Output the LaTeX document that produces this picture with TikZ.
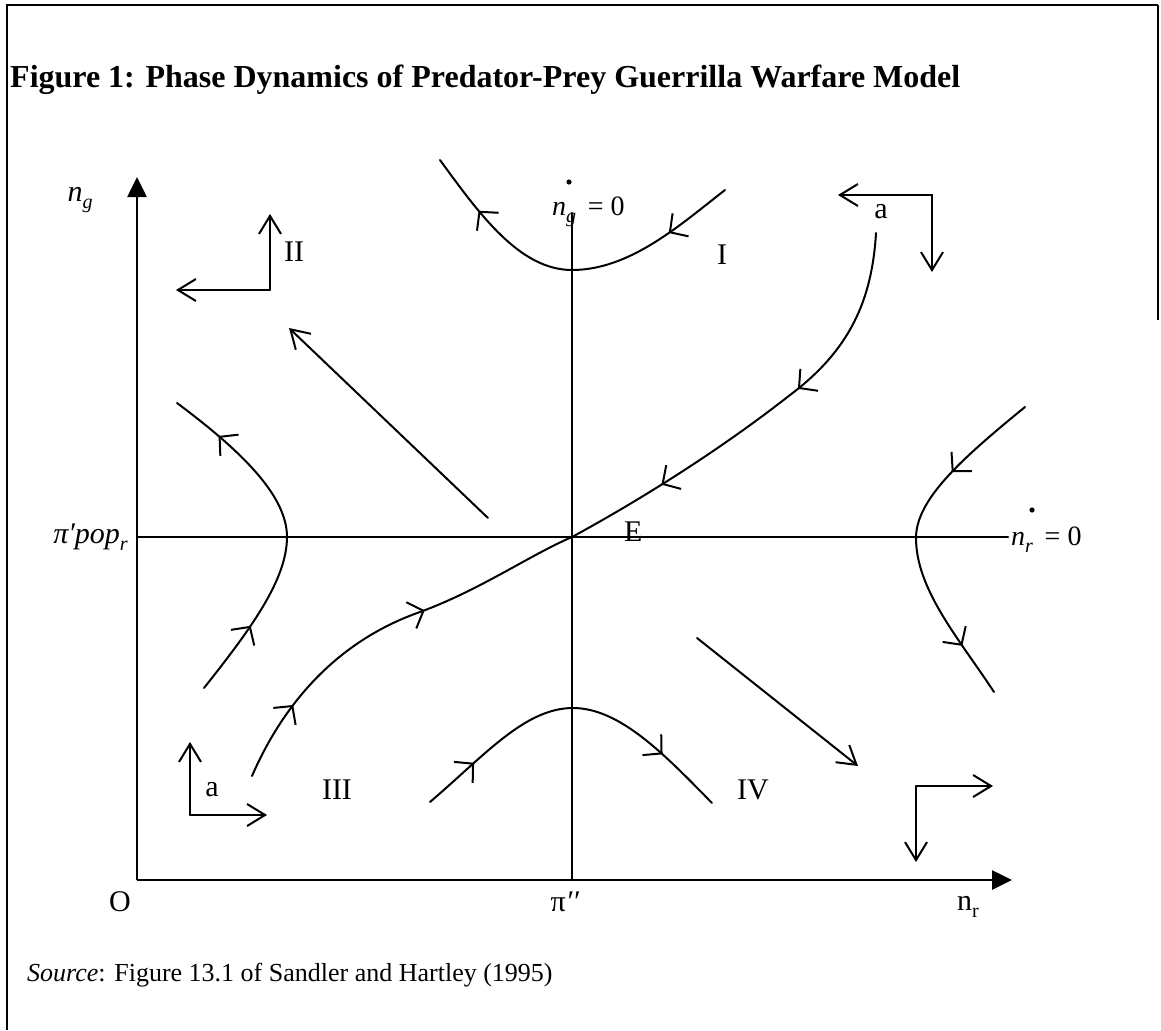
\documentclass[tikz,border=0pt]{standalone}
\usepackage{fontspec}
\setmainfont{Liberation Serif}
\usetikzlibrary{arrows.meta,decorations.markings}
\newcommand{\subs}[1]{\raisebox{-7pt}{\fontsize{20}{20}\selectfont #1}}
\begin{document}
\begin{tikzpicture}[x=1pt,y=-1pt,
  every node/.style={font=\fontsize{30}{34}\selectfont, inner sep=0pt},
  ln/.style={line width=2pt, line cap=round},
  axis/.style={line width=2.6pt, -{Triangle[length=20pt,width=19pt]}},
  openarr/.style={ln, -{Straight Barb[length=18pt,width=22pt]}},
  cbarb/.tip={Straight Barb[length=13pt,width=28pt]},
  flow/.style 2 args={ln, postaction={decorate}, decoration={markings,
     mark=at position #1 with {\arrow{cbarb}},
     mark=at position #2 with {\arrow{cbarb}}}},
  frame/.style={line width=2pt}]
\useasboundingbox (0,0) rectangle (1161,1030);
% frame
\draw[frame] (1158,5) -- (7,5) -- (7,1030);
\draw[line width=1.2pt] (1158,5) -- (1158,320);
% title and source
\node[anchor=base west, font=\fontsize{32}{38}\selectfont\bfseries] (title) at (10,88) {Figure 1: Phase Dynamics of Predator-Prey Guerrilla Warfare Model};
\node[anchor=west, font=\fontsize{26}{30}\selectfont] (src) at (27,975) {\textit{Source}: Figure 13.1 of Sandler and Hartley (1995)};
% key coordinates
\coordinate (O) at (137,880);
\coordinate (ytip) at (137,177);
\coordinate (xtip) at (1012,880);
\coordinate (E) at (572,537);
\coordinate (hl) at (137,537);
\coordinate (hr) at (1008,537);
\coordinate (vt) at (572,213);
\coordinate (vb) at (572,880);
% axes
\draw[axis] (O) -- (ytip);
\draw[axis] (O) -- (xtip);
% isoclines
\draw[ln] (hl) -- (hr);
\draw[ln] (vt) -- (vb);
% axis labels
\node (ng) at (80,200) {\textit{n}\subs{\textit{g}}};
\node[anchor=east] (pipop) at (128,537) {\textit{π′pop}\subs{\textit{r}}};
\node (Olab) at (120,902) {O};
\node (pilab) at (565,902) {π\textit{′′}};
\node (nrlab) at (968,907) {n\subs{r}};
% n_g dot = 0
\node[anchor=base west, font=\fontsize{28}{30}\selectfont] (ngdot) at (552,215) {\textit{n}\subs{\textit{g}}\, = 0};
\fill (569,182) circle (2.6pt);
% n_r dot = 0
\node[anchor=base west, font=\fontsize{28}{30}\selectfont] (nrdot) at (1011,545) {\textit{n}\subs{\textit{r}}\, = 0};
\fill (1032,510) circle (2.6pt);
% region labels
\node (E lab) [anchor=base west] at (624,541) {E};
\node (I) at (722,255) {I};
\node (II) at (294,252) {II};
\node (III) at (337,790) {III};
\node (IV) at (753,790) {IV};
\node (a1) at (881,212) {a};
\node (a2) at (212,790) {a};
% corner arrows
\coordinate (c2) at (270,290);
\coordinate (c2u) at (270,214);
\coordinate (c2l) at (176,290);
\draw[openarr] (c2) -- (c2u);
\draw[openarr] (c2) -- (c2l);
\coordinate (ca) at (932,195);
\coordinate (cal) at (838,195);
\coordinate (cad) at (932,272);
\draw[openarr] (ca) -- (cal);
\draw[openarr] (ca) -- (cad);
\coordinate (cb) at (190,815);
\coordinate (cbu) at (190,742);
\coordinate (cbr) at (267,815);
\draw[openarr] (cb) -- (cbu);
\draw[openarr] (cb) -- (cbr);
\coordinate (c4) at (916,786);
\coordinate (c4r) at (993,786);
\coordinate (c4d) at (916,862);
\draw[openarr] (c4) -- (c4r);
\draw[openarr] (c4) -- (c4d);
% straight flow arrows
\coordinate (nw0) at (488,518);
\coordinate (nw1) at (289,328);
\draw[openarr] (nw0) -- (nw1);
\coordinate (se0) at (697,638);
\coordinate (se1) at (858,766);
\draw[openarr] (se0) -- (se1);
% separatrix
\coordinate (sl) at (252,776);
\coordinate (su) at (876,233);
\draw[flow={0.2}{0.6}] (sl) .. controls (285,700) and (340,640) .. (420,612) .. controls (480,590) and (530,555) .. (E);
\draw[flow={0.4}{0.77}] (su) .. controls (872,300) and (850,350) .. (790,395) .. controls (720,450) and (640,500) .. (E);
% top hyperbola (region I/II)
\coordinate (tr) at (725,190);
\coordinate (tm) at (572,270);
\coordinate (tl) at (440,160);
\draw[flow={0.2}{0.82}] (tr) .. controls (680,225) and (630,270) .. (tm) .. controls (520,270) and (480,215) .. (tl);
% bottom hyperbola (region III/IV)
\coordinate (bl) at (430,802);
\coordinate (bm) at (573,708);
\coordinate (br) at (712,803);
\draw[flow={0.17}{0.8}] (bl) .. controls (485,755) and (525,708) .. (bm) .. controls (620,708) and (665,755) .. (br);
% left hyperbola
\coordinate (lb) at (204,688);
\coordinate (lm) at (287,537);
\coordinate (lt) at (177,403);
\draw[flow={0.22}{0.85}] (lb) .. controls (250,630) and (287,580) .. (lm) .. controls (287,495) and (240,450) .. (lt);
% right hyperbola
\coordinate (rt) at (1025,407);
\coordinate (rm) at (916,538);
\coordinate (rb) at (994,692);
\draw[flow={0.28}{0.84}] (rt) .. controls (960,460) and (916,500) .. (rm) .. controls (916,590) and (960,640) .. (rb);
\end{tikzpicture}
\end{document}
